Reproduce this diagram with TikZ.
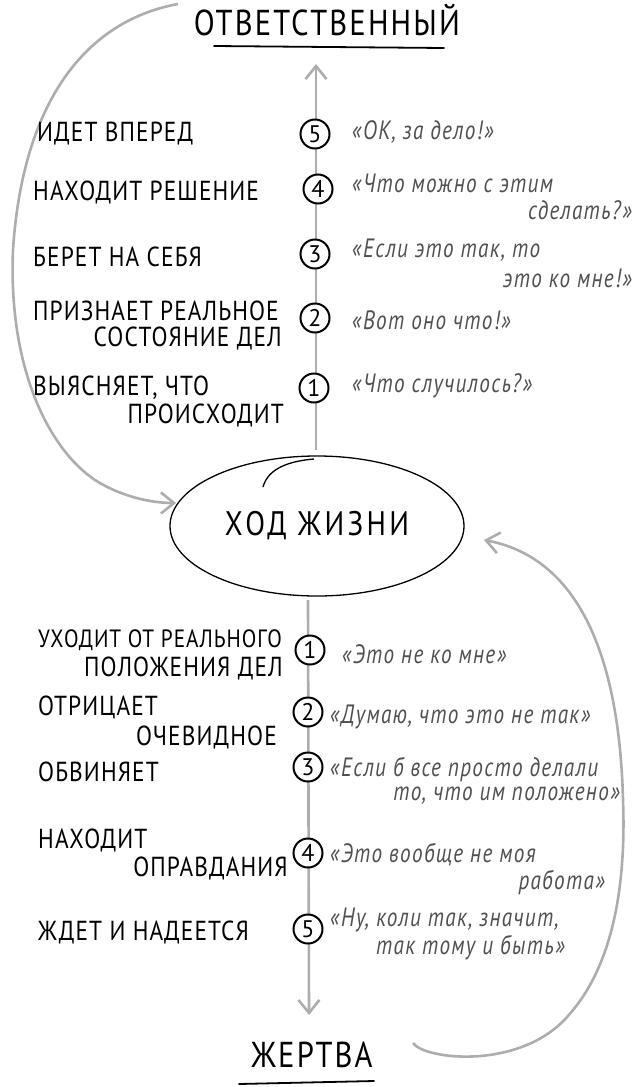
\documentclass[tikz,border=0pt]{standalone}
\usepackage{fontspec}
\setmainfont{PT Sans}
\newfontfamily\handfont[FakeStretch=0.85,LetterSpace=4]{PT Sans}
\newfontfamily\titlefont[FakeStretch=0.85,LetterSpace=6]{PT Sans}
\newfontfamily\lifefont[FakeStretch=0.85,LetterSpace=10]{PT Sans}
\newfontfamily\quotefont[FakeStretch=0.8,LetterSpace=5]{PT Sans}
\usetikzlibrary{arrows.meta,shapes.geometric}
\definecolor{arrowgray}{HTML}{ADADAD}
\definecolor{quotegray}{HTML}{505050}
\tikzset{
  flow/.style={draw=arrowgray, line width=2.6pt, -{Straight Barb[length=13pt,width=21pt]}},
  num/.style={circle, draw=black, line width=2pt, minimum size=29pt, inner sep=0pt, font=\fontsize{24}{24}\selectfont, fill=white},
  lbl/.style={font=\handfont\fontsize{27.5}{29}\selectfont, text=black, inner sep=0pt},
  quo/.style={font=\quotefont\itshape\fontsize{26.5}{28}\selectfont, text=quotegray, inner sep=0pt},
  ttl/.style={font=\titlefont\fontsize{36}{38}\selectfont, text=black, inner sep=0pt},
  uline/.style={line width=1.8pt, line cap=round}
}
\begin{document}
\begin{tikzpicture}[x=1pt,y=-1pt]
\useasboundingbox (0,0) rectangle (632,1087);
% titles
\node[ttl] (resp) at (327,20) {ОТВЕТСТВЕННЫЙ};
\coordinate (r1) at (214,46);
\coordinate (r2) at (444,48);
\draw[uline] (r1) -- (r2);
\node[ttl] (victim) at (312,1055) {ЖЕРТВА};
\coordinate (v1) at (239,1084);
\coordinate (v2) at (374,1081);
\draw[uline] (v1) -- (v2);
% ellipse
\node[draw, ellipse, line width=1.3pt, minimum width=294pt, minimum height=140pt, inner sep=0pt, font=\lifefont\fontsize{34}{34}\selectfont] (life) at (317,526) {ХОД ЖИЗНИ};
\coordinate (h1) at (263,487);
\coordinate (h2) at (314,459);
\draw[line width=1.3pt] (h1) .. controls (268,468) and (290,461) .. (h2);
% main axis
\coordinate (upEnd) at (316,64);
\coordinate (upStart) at (316,450);
\coordinate (dnStart) at (308,600);
\coordinate (dnEnd) at (309,1015);
\draw[flow] (upStart) -- (upEnd);
\draw[flow] (dnStart) -- (dnEnd);
% loops
\coordinate (lA) at (178,4);
\coordinate (lB) at (176,503);
\draw[flow] (lA) .. controls (80,22) and (22,110) .. (13,250) .. controls (8,370) and (50,450) .. (95,480) .. controls (120,496) and (150,503) .. (lB);
\coordinate (rA) at (413,1043);
\coordinate (rB) at (484,540);
\draw[flow] (rA) .. controls (425,1060) and (520,1070) .. (567,1017) .. controls (615,965) and (626,880) .. (623,800) .. controls (620,680) and (590,560) .. (rB);
% upper numbers
\node[num] (u5) at (315,134) {5};
\node[num] (u4) at (318,189) {4};
\node[num] (u3) at (315,254) {3};
\node[num] (u2) at (315,318) {2};
\node[num] (u1) at (314,388) {1};
% upper labels
\node[lbl, anchor=west] (l5) at (37,134) {ИДЕТ ВПЕРЕД};
\node[lbl, anchor=west] (l4) at (33,192) {НАХОДИТ РЕШЕНИЕ};
\node[lbl, anchor=west] (l3) at (33,257) {БЕРЕТ НА СЕБЯ};
\node[lbl, anchor=west] (l2a) at (33,311) {ПРИЗНАЕТ РЕАЛЬНОЕ};
\node[lbl, anchor=east] (l2b) at (282,338) {СОСТОЯНИЕ ДЕЛ};
\node[lbl, anchor=west] (l1a) at (33,388) {ВЫЯСНЯЕТ, ЧТО};
\node[lbl, anchor=east] (l1b) at (284,415) {ПРОИСХОДИТ};
% upper quotes
\node[quo, anchor=west] (q5) at (352,132) {«ОК, за дело!»};
\node[quo, anchor=west] (q4a) at (352,183) {«Что можно с этим};
\node[quo, anchor=east] (q4b) at (632,210) {сделать?»};
\node[quo, anchor=west] (q3a) at (352,250) {«Если это так, то};
\node[quo, anchor=east] (q3b) at (632,278) {это ко мне!»};
\node[quo, anchor=west] (q2) at (352,320) {«Вот оно что!»};
\node[quo, anchor=west] (q1) at (352,386) {«Что случилось?»};
% lower numbers
\node[num] (d1) at (310,650) {1};
\node[num] (d2) at (308,712) {2};
\node[num] (d3) at (308,767) {3};
\node[num] (d4) at (308,853) {4};
\node[num] (d5) at (308,929) {5};
% lower labels
\node[lbl, anchor=west, font=\handfont\fontsize{25}{27}\selectfont] (m1a) at (38,640) {УХОДИТ ОТ РЕАЛЬНОГО};
\node[lbl, anchor=east] (m1b) at (283,668) {ПОЛОЖЕНИЯ ДЕЛ};
\node[lbl, anchor=west] (m2a) at (38,707) {ОТРИЦАЕТ};
\node[lbl, anchor=east] (m2b) at (277,737) {ОЧЕВИДНОЕ};
\node[lbl, anchor=west] (m3) at (38,772) {ОБВИНЯЕТ};
\node[lbl, anchor=west] (m4a) at (38,840) {НАХОДИТ};
\node[lbl, anchor=east] (m4b) at (288,868) {ОПРАВДАНИЯ};
\node[lbl, anchor=west] (m5) at (38,932) {ЖДЕТ И НАДЕЕТСЯ};
% lower quotes
\node[quo, anchor=west] (p1) at (342,654) {«Это не ко мне»};
\node[quo, anchor=west] (p2) at (330,717) {«Думаю, что это не так»};
\node[quo, anchor=west] (p3a) at (330,770) {«Если б все просто делали};
\node[quo, anchor=east] (p3b) at (620,796) {то, что им положено»};
\node[quo, anchor=west] (p4a) at (330,855) {«Это вообще не моя};
\node[quo, anchor=east] (p4b) at (605,883) {работа»};
\node[quo, anchor=west] (p5a) at (330,920) {«Ну, коли так, значит,};
\node[quo, anchor=east] (p5b) at (565,948) {так тому и быть»};
\end{tikzpicture}
\end{document}
